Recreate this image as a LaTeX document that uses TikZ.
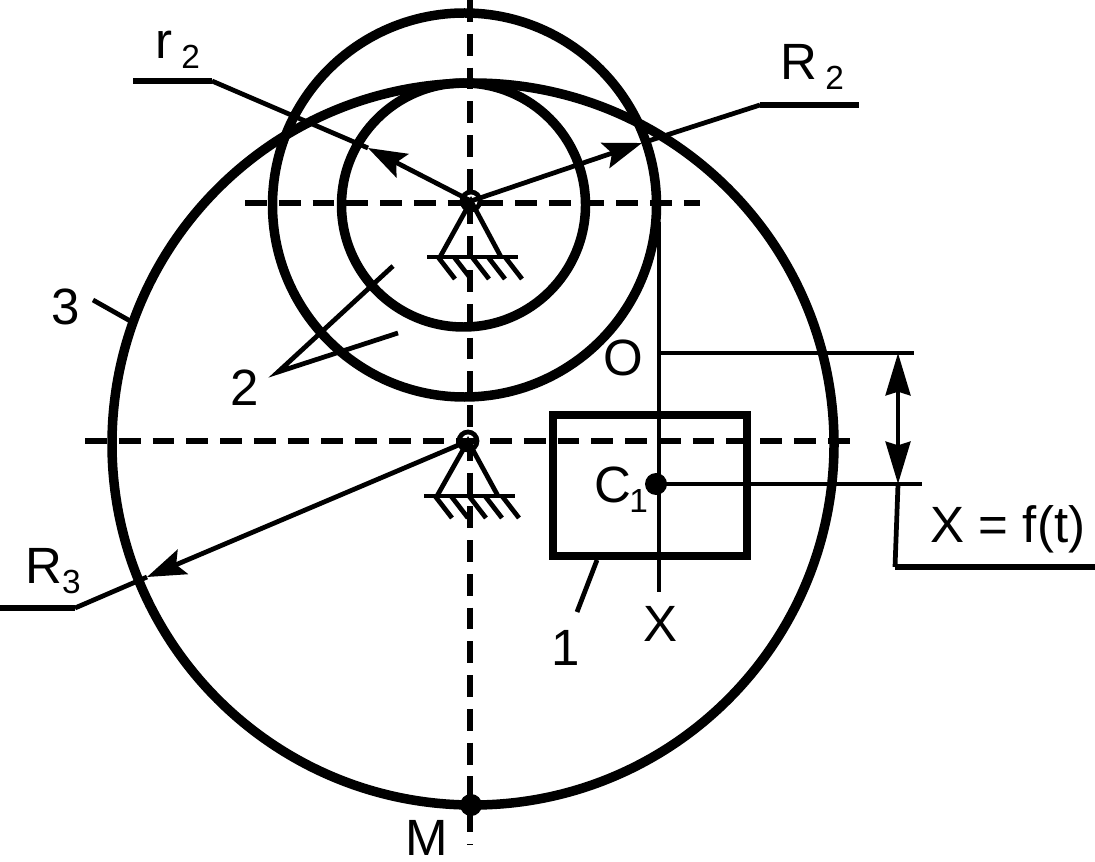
\documentclass[tikz,border=0pt]{standalone}
\usepackage{fontspec}
\setmainfont{Liberation Sans}
\usetikzlibrary{arrows.meta}
\newcommand{\subn}[1]{\raisebox{-0.2em}{\fontsize{9.5}{12}\selectfont #1}}
\tikzset{
	thick line/.style={line width=2.7pt},
	box line/.style={line width=2.4pt},
	thin line/.style={line width=1.35pt},
	leader/.style={line width=1.6pt},
	axis line/.style={line width=1.5pt,dash pattern=on 6.2pt off 3.4pt},
	lbl/.style={inner sep=0pt,font=\fontsize{14.5}{16}\selectfont},
	pointer/.style={thin line,-{Stealth[length=11pt,width=7.5pt,inset=2pt]}},
	dimension/.style={thin line,{Stealth[length=12pt,width=7pt,inset=1pt]}-{Stealth[length=12pt,width=7pt,inset=1pt]}},
}
\begin{document}
\begin{tikzpicture}[x=0.01cm,y=-0.01cm]
	\useasboundingbox (0,0) rectangle (1095,861);
	\coordinate (P2) at (471,201);
	\coordinate (P3) at (468,441);
	\coordinate (M) at (471,805);
	\coordinate (C1) at (656,484);
	\coordinate (Rtip) at (642,143);
	\coordinate (Rknee) at (760,105);
	\coordinate (Rend) at (859,105);
	\coordinate (rtip) at (368,148);
	\coordinate (rknee) at (212,81);
	\coordinate (rend) at (133,81);
	\coordinate (Qtip) at (147,577);
	\coordinate (Qknee) at (75,608);
	\coordinate (Qend) at (0,608);
	\coordinate (two) at (278,372);
	\coordinate (dimO) at (898,353);
	\coordinate (dimC) at (898,484);
	\coordinate (dimknee) at (895,567);
	\coordinate (dimend) at (1095,567);
	% axes
	\draw[axis line] (470,0)--(470,845);
	\draw[axis line] (245,203)--(700,203);
	\draw[axis line] (85,441)--(855,441);
	% circles and body
	\draw[thick line] (473,444) circle (361);
	\draw[thick line] (464.5,205) circle (192);
	\draw[thick line] (463.5,205) circle (122);
	\draw[box line] (553,415) rectangle (747,556);
	% supports
	\foreach \point/\gx/\gy in {P2/471/257,P3/468/496} {
		\draw[thin line] (\point) circle (9);
		\draw[thin line] (\gx-31,\gy)--(\point)--(\gx+30,\gy);
		\draw[thin line] (\gx-44,\gy)--(\gx+47,\gy);
		\foreach \hx in {-33,-17,1,17,34}
			\draw[thin line] (\gx+\hx,\gy)--(\gx+\hx+17,\gy+22);
	}
	% radii
	\draw[pointer] (P2)--(rtip);
	\draw[thin line] (rtip)--(rknee);
	\draw[leader] (rknee)--(rend);
	\draw[pointer] (P2)--(Rtip);
	\draw[thin line] (Rtip)--(Rknee);
	\draw[leader] (Rknee)--(Rend);
	\draw[pointer] (P3)--(Qtip);
	\draw[thin line] (Qtip)--(Qknee);
	\draw[leader] (Qknee)--(Qend);
	% slide and dimension
	\draw[thin line] (659,222)--(659,592);
	\draw[thin line] (659,353)--(914,353);
	\draw[thin line] (C1)--(922,484);
	\draw[dimension] (dimO)--(dimC);
	\draw[thin line] (dimC)--(dimknee);
	\draw[leader] (dimknee)--(dimend);
	\foreach \point in {C1,M} \fill[black] (\point) circle (11);
	% labels
	\node[lbl] (r2) at (178,50) {r\,\subn{2}};
	\node[lbl] (R2) at (812,67) {R\,\subn{2}};
	\node[lbl] (R3) at (53,571) {R\subn{3}};
	\node[lbl] (n3) at (66,307) {3};
	\node[lbl] (n2) at (245,388) {2};
	\node[lbl] (n1) at (566,648) {1};
	\node[lbl] (O) at (623,358) {O};
	\node[lbl] (C) at (621,490) {C\kern-0.5pt\subn{1}};
	\node[lbl] (X) at (660,624) {X};
	\node[lbl] (fx) at (1008,529) {X = f(t)};
	\node[lbl] (Mlabel) at (427,838) {M};
	% leaders
	\coordinate (to3) at (132,322);
	\coordinate (to3b) at (93,300);
	\draw[thin line] (to3b)--(to3);
	\draw[thin line] (393,266)--(two)--(398,333);
	\draw[thin line] (597,560)--(577,612);
\end{tikzpicture}
\end{document}
